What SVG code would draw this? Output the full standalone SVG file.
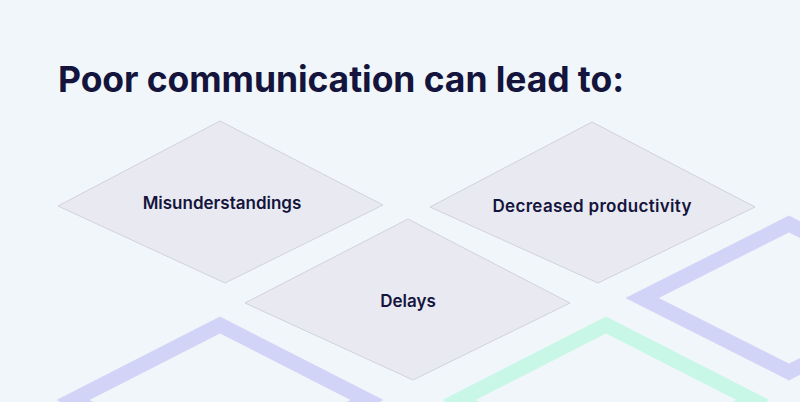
<svg xmlns="http://www.w3.org/2000/svg" width="800" height="402" viewBox="0 0 800 402">
  <style>
    .deco { fill: none; stroke-width: 15; stroke-linejoin: miter; }
    .lav { stroke: #d1d4f7; }
    .mint { stroke: #c8f7e7; }
    .node polygon { fill: #e9e9f1; stroke: #d2d2da; stroke-width: 1; }
    .label { font-family: Inter, "Liberation Sans", sans-serif; font-weight: 600; font-size: 17px; fill: #14143c; text-anchor: middle; }
    .title { font-family: Inter, "Liberation Sans", sans-serif; font-weight: 700; font-size: 35.5px; fill: #14143c; }
  </style>
  <rect width="800" height="402" fill="#f0f6f9"/>
  <g id="background-shapes">
    <polygon class="deco lav" points="220,325 367,400 220,475 73,400"/>
    <polygon class="deco mint" points="606,325 753,400 606,475 459,400"/>
    <polygon class="deco lav" points="789,224 936,298 789,372 642,298"/>
  </g>
  <text class="title" x="58" y="92" textLength="566" lengthAdjust="spacing">Poor communication can lead to:</text>
  <g id="connectors"></g>
  <g id="node-misunderstandings" class="node">
    <polygon points="58,206 220,121 383,205 225,283"/>
    <text class="label" x="222" y="209">Misunderstandings</text>
  </g>
  <g id="node-decreased-productivity" class="node">
    <polygon points="430,207 592,122 755,207 598,283"/>
    <text class="label" x="592" y="212" textLength="199" lengthAdjust="spacing">Decreased productivity</text>
  </g>
  <g id="node-delays" class="node">
    <polygon points="245,303 408,219 570,303 413,380"/>
    <text class="label" x="408" y="307">Delays</text>
  </g>
</svg>
